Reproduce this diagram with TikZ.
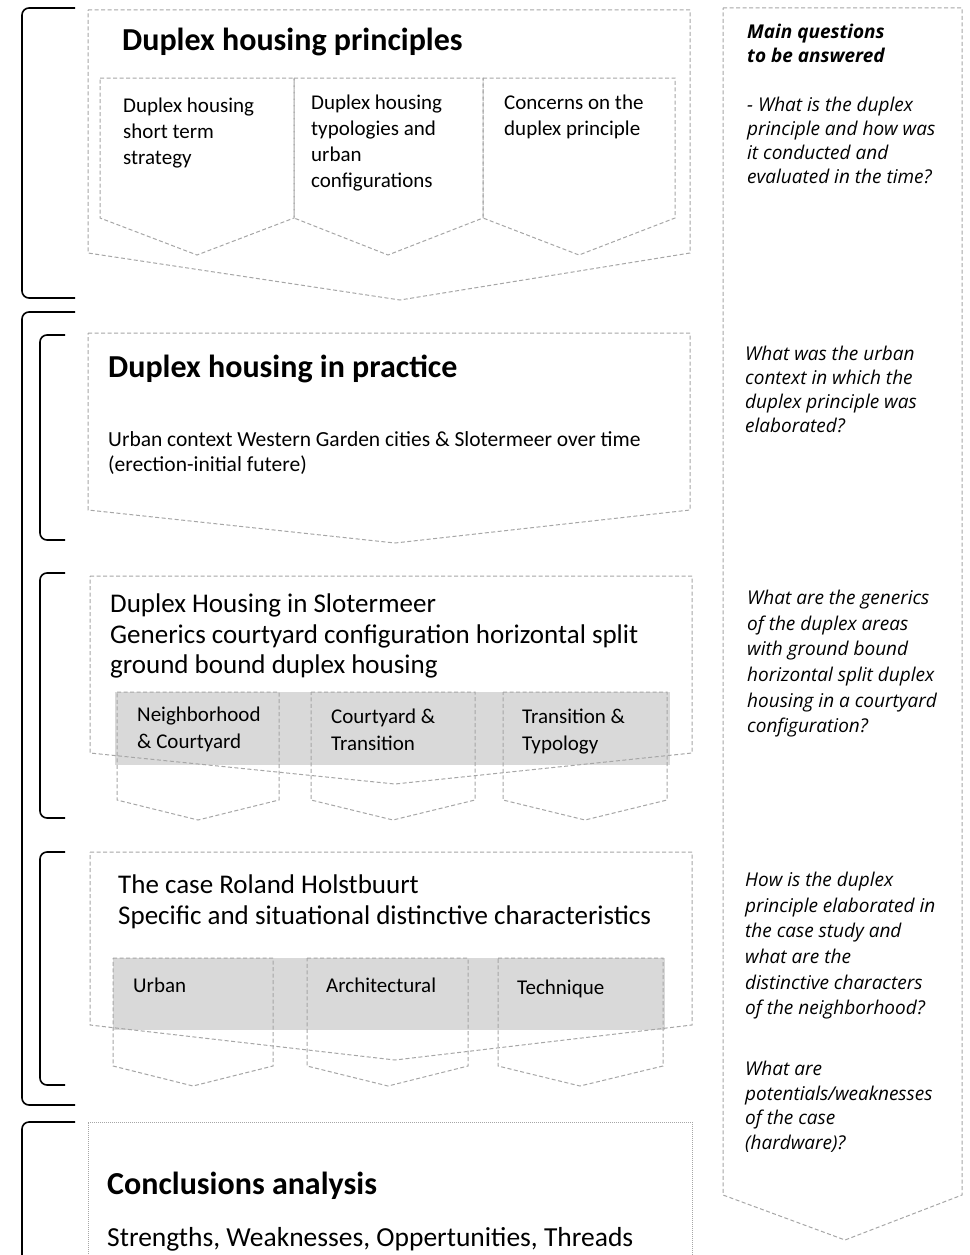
\documentclass[tikz,border=0pt]{standalone}
\usepackage{fontspec}
\setmainfont{Carlito}
\newfontfamily\qfont{Open Sans}
\definecolor{lineg}{HTML}{A6A6A6}
\definecolor{bandg}{HTML}{D9D9D9}
\begin{document}
\begin{tikzpicture}[x=1pt,y=-1pt,
  dbox/.style={draw=lineg, dash pattern=on 4pt off 2.5pt, line width=1pt},
  fbox/.style={draw=lineg, dash pattern=on 1pt off 1pt, line width=0.6pt},
  brk/.style={draw=black, line width=1.6pt, rounded corners=7pt},
  band/.style={fill=bandg, draw=none},
  ttl/.style={anchor=north west, inner sep=0pt, font=\fontsize{32}{36}\selectfont\bfseries},
  sub/.style={anchor=north west, align=left, inner sep=0pt, font=\fontsize{21}{25.8}\selectfont},
  subb/.style={anchor=north west, align=left, inner sep=0pt, font=\fontsize{21}{27}\selectfont},
  mid/.style={anchor=north west, align=left, inner sep=0pt, font=\fontsize{27}{30.5}\selectfont},
  qst/.style={anchor=north west, align=left, inner sep=0pt, font=\qfont\itshape\fontsize{19}{24}\selectfont},
  qstw/.style={anchor=north west, align=left, inner sep=0pt, font=\qfont\itshape\fontsize{19}{25.6}\selectfont}
]
\useasboundingbox (0,0) rectangle (969,1255);
\fill[white] (0,0) rectangle (969,1255);

% brackets
\draw[brk] (75,8) -- (22,8) -- (22,298) -- (75,298);
\draw[brk] (75,312) -- (22,312) -- (22,1105) -- (75,1105);
\draw[brk] (65,335) -- (40,335) -- (40,540) -- (65,540);
\draw[brk] (65,573) -- (40,573) -- (40,818) -- (65,818);
\draw[brk] (65,852) -- (40,852) -- (40,1085) -- (65,1085);
\draw[brk] (75,1122) -- (22,1122) -- (22,1270);

% box 1
\draw[dbox] (88,10) -- (690,10) -- (690,253) -- (400,300) -- (88,253) -- cycle;
\draw[dbox] (100,78) -- (294,78) -- (294,218) -- (197,255) -- (100,218) -- cycle;
\draw[dbox] (294,78) -- (483,78) -- (483,218) -- (388,255) -- (294,218) -- cycle;
\draw[dbox] (483,78) -- (675,78) -- (675,218) -- (579,255) -- (483,218) -- cycle;
\node[ttl] (t1) at (122,28) {Duplex housing principles};
\node[sub] (s11) at (123,98) {Duplex housing\\short term\\strategy};
\node[sub] (s12) at (311,95) {Duplex housing\\typologies and\\urban\\configurations};
\node[sub] (s13) at (504,95) {Concerns on the\\duplex principle};

% box 2
\draw[dbox] (88,333) -- (690,333) -- (690,510) -- (395,543) -- (88,510) -- cycle;
\node[ttl] (t2) at (108,355) {Duplex housing in practice};
\node[sub, font=\fontsize{21.5}{25}\selectfont] (s2) at (108,431) {Urban context Western Garden cities \& Slotermeer over time\\(erection-initial futere)};

% box 3
\fill[band] (115,692) rectangle (670,765);
\draw[dbox] (90,576) -- (692,576) -- (692,753) -- (395,784) -- (90,753) -- cycle;
\draw[dbox] (117,692) -- (279,692) -- (279,800) -- (198,820) -- (117,800) -- cycle;
\draw[dbox] (311,692) -- (475,692) -- (475,800) -- (393,820) -- (311,800) -- cycle;
\draw[dbox] (503,692) -- (667,692) -- (667,800) -- (585,820) -- (503,800) -- cycle;
\node[mid] (m3) at (110,594) {Duplex Housing in Slotermeer\\Generics courtyard configuration horizontal split\\ground bound duplex housing};
\node[subb] (s31) at (137,707) {Neighborhood\\\& Courtyard};
\node[subb] (s32) at (331,709) {Courtyard \&\\Transition};
\node[subb] (s33) at (522,709) {Transition \&\\Typology};

% box 4
\fill[band] (113,958) rectangle (665,1030);
\draw[dbox] (90,852) -- (692,852) -- (692,1025) -- (395,1060) -- (90,1025) -- cycle;
\draw[dbox] (113,958) -- (273,958) -- (273,1066) -- (193,1086) -- (113,1066) -- cycle;
\draw[dbox] (307,958) -- (468,958) -- (468,1066) -- (388,1086) -- (307,1066) -- cycle;
\draw[dbox] (498,958) -- (663,958) -- (663,1066) -- (580,1086) -- (498,1066) -- cycle;
\node[mid, font=\fontsize{27}{31}\selectfont] (m4) at (118,875) {The case Roland Holstbuurt\\Specific and situational distinctive characteristics};
\node[subb] (s41) at (133,978) {Urban};
\node[subb] (s42) at (326,978) {Architectural};
\node[subb] (s43) at (517,980) {Technique};

% box 5
\draw[fbox] (88,1270) -- (88,1122) -- (692,1122) -- (692,1270);
\node[ttl] (t5) at (107,1172) {Conclusions analysis};
\node[anchor=north west, inner sep=0pt, font=\fontsize{27.5}{32}\selectfont] (s5) at (107,1227) {Strengths, Weaknesses, Oppertunities, Threads};

% right column
\draw[dbox] (723,8) -- (962,8) -- (962,1195) -- (845,1240) -- (723,1195) -- cycle;
\node[qst, font=\qfont\bfseries\itshape\fontsize{19}{24}\selectfont] (q0) at (747,24) {Main questions\\to be answered};
\node[qst] (q1) at (747,97) {- What is the duplex\\principle and how was\\it conducted and\\evaluated in the time?};
\node[qst] (q2) at (745,346) {What was the urban\\context in which the\\duplex principle was\\elaborated?};
\node[qstw] (q3) at (747,590) {What are the generics\\of the duplex areas\\with ground bound\\horizontal split duplex\\housing in a courtyard\\configuration?};
\node[qstw] (q4) at (745,872) {How is the duplex\\principle elaborated in\\the case study and\\what are the\\distinctive characters\\of the neighborhood?};
\node[qst, font=\qfont\itshape\fontsize{19}{24.5}\selectfont] (q5) at (745,1061) {What are\\potentials/weaknesses\\of the case\\(hardware)?};
\end{tikzpicture}
\end{document}
